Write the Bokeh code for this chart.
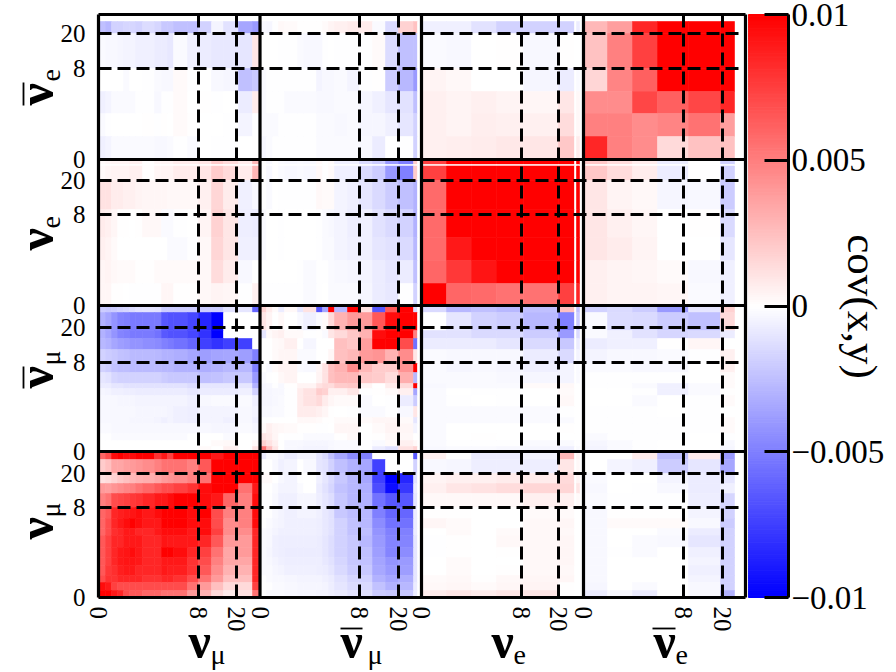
import math
import numpy as np
from bokeh.plotting import figure
from bokeh.core.properties import value
from bokeh.models import (ColumnDataSource, LinearColorMapper, FixedTicker, LinearAxis, Range1d)
from bokeh.embed import file_html
from bokeh.resources import INLINE

# bin edges of each flavour along x, and along y (top to bottom)
X_MU = [0,7,13,19,25,31,37,44,56,63,69,75,89,100,113,125,140,154,161.5]
X_MB = [0,6.5,12.5,18.5,24.5,37.5,43.5,56.5,62.5,68.5,74.5,87.5,99.5,112.5,125.5,138.5,153.5,157.5,161.5]
X_E = [0,25,50,75,102,137,153,155,158]
X_EB = [0,24,49,74,105,137,151]
Y_MU = [146,138,124,114,104,90,79,69,62,50,40,32,22,15,7,0]
Y_MB = [146,139,121,113,102,88,79,68,63,56,45,34,28,18,11,5,0]
Y_E = [146,141,139.5,125,96,68,45,22,0]
Y_EB = [145.75,138,126,91,68,46,23,0]

# covariance in units of 1e-4; rows top to bottom
MU_MU = [
[60,70,95,100,95,95,100,100,80,90,75,100,100,100,90,100,100,100],
[20,25,35,35,38,40,42,45,50,55,55,55,50,65,100,100,100,100],
[12,14,18,22,25,28,30,32,35,40,42,45,50,55,100,100,100,100],
[40,38,42,45,48,50,55,60,65,70,70,75,80,95,100,100,55,90],
[50,55,70,72,75,78,80,85,90,90,95,100,100,95,90,60,50,95],
[60,65,85,88,90,92,95,90,95,100,100,100,95,100,70,50,50,95],
[60,70,85,90,95,100,95,90,90,100,100,100,95,95,70,45,50,95],
[60,70,82,85,90,90,85,85,90,95,95,95,90,95,75,45,45,85],
[65,75,85,85,90,90,90,85,85,92,90,90,90,85,65,40,40,85],
[65,75,85,90,92,95,90,85,85,100,100,95,85,75,55,35,40,85],
[65,75,85,90,92,92,90,85,85,90,90,90,80,70,50,35,35,85],
[65,78,82,88,90,90,85,85,85,90,88,88,80,65,45,30,30,85],
[70,80,80,85,85,85,85,80,80,85,85,80,70,55,40,25,25,85],
[95,90,75,70,70,70,70,70,70,70,70,70,55,40,25,15,15,75],
[100,100,90,85,70,65,65,60,60,55,55,55,40,30,15,8,12,55]]
MU_MB = [
[-8,-2,-2,-5,-8,-5,-5,-10,-15,-25,-35,-45,-50,0,0,0,-65,0],
[0,0,-3,-6,-5,0,-3,-10,-12,-18,-25,-30,-35,-75,0,0,-18,0],
[2,2,0,-3,-5,-1,0,-6,-10,-15,-22,-28,-35,-75,-100,-85,-12,0],
[0,0,-2,-5,-5,-2,0,-8,-12,-16,-24,-28,-32,-70,-95,-78,-8,0],
[-1,-1,-3,-6,-6,-4,-4,-7,-10,-13,-22,-28,-30,-55,-65,-65,-10,0],
[0,-1,-3,-5,-6,-5,-5,-6,-9,-12,-22,-26,-28,-50,-60,-60,-8,0],
[-1,-2,-4,-5,-6,-6,-6,-7,-9,-12,-18,-24,-28,-45,-55,-55,-8,0],
[-2,-3,-5,-6,-6,-6,-6,-7,-9,-12,-18,-24,-26,-42,-50,-50,-8,0],
[-2,-3,-6,-7,-7,-7,-7,-8,-10,-13,-18,-22,-28,-40,-48,-48,-10,0],
[-2,-4,-6,-7,-8,-8,-8,-8,-10,-13,-18,-22,-25,-38,-48,-45,-10,0],
[-2,-3,-5,-6,-7,-7,-7,-7,-9,-12,-16,-22,-24,-36,-42,-40,-10,0],
[-2,-2,-4,-5,-6,-6,-6,-7,-8,-10,-15,-20,-22,-34,-40,-38,-10,0],
[-1,-2,-3,-3,-4,-5,-5,-5,-6,-8,-12,-16,-18,-30,-35,-32,-10,0],
[0,-1,-2,-2,-3,-4,-4,-4,-5,-7,-10,-14,-15,-24,-30,-28,-8,0],
[-1,-2,-2,-2,-3,-4,-4,-5,-5,-6,-8,-11,-12,-20,-22,-22,-8,0]]
MU_E = [
[6,0,-8,-8,-5,28,0,5],
[-3,-4,-7,-7,-7,10,0,3],
[5,6,6,8,8,15,0,5],
[6,10,12,14,16,16,0,10],
[3,3,3,3,6,6,0,2],
[1,1,0,0,2,2,0,0],
[4,2,0,0,3,4,0,0],
[0,2,0,2,3,3,0,0],
[-1,1,0,3,3,4,0,0],
[-1,1,0,1,3,4,0,0],
[0,2,0,0,3,4,0,0],
[0,2,0,1,3,3,0,0],
[2,3,1,3,4,4,0,0],
[3,4,2,4,5,1,0,0],
[8,10,8,10,10,1,0,0]]
MU_EB = [
[0,0,8,-25,8,-40],
[0,-5,-6,-20,-10,-35],
[-2,0,0,-5,-8,-10],
[-3,0,-1,-3,-8,-6],
[-2,-1,-1,-1,-7,-16],
[-3,1,1,1,-5,-18],
[-3,2,2,2,-3,-20],
[-3,0,0,-2,-8,-18],
[-3,0,-2,-3,-10,-18],
[-3,-1,-2,0,-6,-18],
[-3,0,0,0,-5,-18],
[-3,0,0,0,-6,-18],
[-3,0,0,0,-5,-18],
[-4,0,-2,0,-3,-18],
[-8,-3,-8,0,-2,-30]]
MB_MU = [
[-20,-22,-20,-18,-16,-14,-12,-11,-12,-20,-20,-20,-20,-20,-20,-12,-10,-60],
[-30,-35,-42,-48,-50,-52,-52,-52,-52,-65,-68,-68,-72,-85,-100,0,0,0],
[-30,-35,-42,-48,-50,-52,-52,-52,-55,-65,-68,-68,-72,-80,-100,0,0,0],
[-28,-30,-35,-38,-40,-42,-42,-44,-46,-50,-52,-55,-60,-75,-80,-75,-75,0],
[-18,-20,-22,-24,-25,-27,-27,-27,-28,-30,-30,-32,-35,-38,-36,-35,-38,-50],
[-18,-20,-24,-26,-26,-27,-27,-27,-27,-28,-28,-30,-30,-32,-30,-28,-28,-50],
[-10,-12,-16,-18,-18,-18,-18,-18,-18,-20,-22,-22,-22,-25,-24,-22,-22,-40],
[-8,-8,-10,-10,-12,-12,-12,-12,-12,-12,-12,-12,-14,-10,-10,-10,-10,-30],
[-4,-5,-6,-6,-7,-7,-8,-8,-8,-8,-8,-8,-9,-8,-8,-8,-6,-18],
[-3,-3,-3,-4,-4,-4,-5,-5,-5,-5,-5,-5,-6,-3,-2,-2,-2,-6],
[-3,-3,-3,-3,-3,-3,-4,-4,-4,-4,-5,-6,-7,-5,-5,-5,-3,-5],
[-3,-3,-3,-3,-3,-4,-4,-4,-5,-6,-5,-6,-7,-5,-5,-6,-3,-6],
[-2,-2,-3,-3,-3,-3,-3,-3,-3,-3,-3,-3,-3,-3,-4,-4,-2,-4],
[-1,-1,-2,-2,-2,-2,-2,-2,-2,-2,-2,-2,-1,0,0,-2,0,-1],
[0,0,0,0,0,0,0,0,0,0,0,0,0,0,2,3,0,3],
[0,0,0,0,0,0,0,0,0,0,0,0,0,2,0,6,0,12]]
MB_MB = [
[18,8,2,-8,3,-10,12,-65,-35,100,-28,100,12,-65,65,100,-15,0],
[10,5,0,3,0,-3,-6,-2,2,15,30,40,40,65,95,100,100,0],
[-10,2,5,6,2,2,-1,1,-2,10,15,22,30,95,100,100,50,0],
[0,0,2,3,6,0,-4,0,0,0,25,22,38,100,100,70,-55,0],
[0,0,2,4,4,-2,-2,0,0,4,25,28,40,42,30,45,10,0],
[0,-2,2,5,5,-2,-3,4,12,25,30,45,28,20,20,42,100,0],
[-2,-1,0,3,5,0,0,5,12,25,28,28,22,20,14,32,-28,0],
[-4,-3,-1,-3,1,5,5,12,15,14,20,22,5,0,8,15,100,0],
[-4,-4,-3,-3,-1,8,12,20,18,6,6,10,-1,1,2,6,-35,0],
[-4,-4,-3,-2,-1,8,12,15,8,4,2,2,-2,0,-1,-8,-20,0],
[-3,-3,-2,-2,-1,8,8,6,4,1,0,-1,-2,-2,-1,-3,10,0],
[-1,-1,0,0,0,3,3,2,1,1,2,2,2,4,4,2,-10,0],
[2,6,4,3,2,1,1,-1,-1,0,4,4,0,2,5,4,-5,0],
[10,8,4,0,-1,-1,-2,-2,-2,-2,1,3,0,1,3,3,0,0],
[18,12,6,0,-3,-3,-4,-4,-4,-3,-2,-2,-1,-2,2,6,3,0],
[55,25,10,0,-3,-4,-5,-5,-5,-3,-2,-2,-1,-8,-12,12,18,0]]
MB_E = [
[-15,-28,-25,-28,-25,25,0,-25],
[0,-10,-18,-20,-28,-50,0,-20],
[-12,-12,-15,-15,-20,-40,0,-15],
[-8,-8,-8,-10,-15,-22,0,-8],
[-2,-3,-3,-3,-8,-15,0,-5],
[-2,-4,-3,-4,-6,-5,0,-2],
[-2,-2,-2,-3,-4,-5,0,-2],
[-3,-2,-2,-2,2,3,0,0],
[-2,0,-1,-1,0,2,0,0],
[-2,-1,0,-1,0,3,0,0],
[-2,-2,-2,-2,-2,-1,0,0],
[-2,-2,-2,-2,-2,-2,0,0],
[-2,0,0,0,0,1,0,0],
[-2,0,1,0,0,0,0,0],
[-2,-1,-1,-1,-2,-2,0,-1],
[-3,-2,-2,-3,-4,-6,0,-2]]
MB_EB = [
[-18,-15,-20,-40,-10,18],
[-2,-14,-15,-20,-25,15],
[-2,-6,-12,-16,-15,-8],
[-8,-6,-6,1,4,0],
[-5,-3,-3,-2,-1,6],
[-2,-2,-3,-3,0,6],
[-1,-1,-1,-1,0,2],
[-1,-1,-2,-6,-2,2],
[0,0,-1,-6,-2,1],
[0,0,-2,0,-1,2],
[-1,-1,-1,0,-1,0],
[-1,-1,-1,-1,-1,2],
[-1,-1,-1,-1,-1,2],
[-2,-1,-1,-1,0,-1],
[-4,-2,-1,0,0,-3],
[-5,-2,-1,0,0,-4]]
E_MU = [
[2,4,5,5,5,6,6,1,4,5,5,8,8,10,20,15,8,28],
[0]*18,
[2,4,5,5,5,6,6,1,4,5,5,8,8,10,20,15,8,28],
[12,12,8,8,6,6,5,4,4,4,3,3,3,6,16,8,-6,-3],
[8,6,4,1,1,0,1,3,3,-2,-2,-1,0,5,18,10,-7,-8],
[6,5,2,0,0,0,0,0,0,0,-2,-2,-1,3,16,10,-6,-6],
[4,5,3,2,2,2,1,1,2,2,2,2,2,3,14,8,-3,0],
[4,4,1,1,0,-1,-1,-1,-1,4,4,1,1,3,5,4,-1,6]]
E_MB = [
[-1,-3,1,-2,-3,-2,-3,3,-1,2,-6,-6,-15,-20,-40,-50,20,0],
[0]*18,
[-1,-3,1,-2,-3,-2,-3,3,-1,2,-6,-6,-15,-20,-40,-50,20,0],
[-1,-2,0,-1,-1,-1,-1,3,2,2,-5,-6,-10,-15,-20,-25,-30,0],
[-2,0,0,-1,0,0,0,-1,-2,-3,-5,-7,-6,-12,-15,-18,-30,0],
[-2,0,0,-1,0,0,0,-1,-2,-2,-5,-6,-6,-10,-12,-15,-28,0],
[0,0,0,0,0,-1,-2,-1,-1,-2,-3,-4,-5,-8,-10,-8,-25,0],
[-1,-1,-1,-1,-1,-1,-2,-1,0,-2,-2,-2,-4,-8,-9,-1,-18,0]]
E_E = [
[75,100,100,100,100,100,0,100],
[0]*8,
[75,100,100,100,100,100,0,100],
[58,100,100,100,100,100,0,100],
[58,100,100,100,100,100,0,100],
[58,90,100,100,100,100,0,100],
[60,78,92,100,100,100,0,100],
[100,60,58,55,55,75,0,85]]
E_EB = [
[22,14,8,-8,1,-18],
[0]*6,
[22,14,8,-8,1,-18],
[10,5,3,-4,-3,-20],
[10,6,4,0,1,-15],
[10,8,5,0,0,-10],
[6,5,4,2,-3,-6],
[6,5,5,4,-2,-6]]
EB_MU = [
[0]*18,
[-25,-28,-18,-18,-16,-16,-18,-14,-16,-22,-22,-25,-25,-18,-5,-12,-35,-40],
[-2,-3,-3,-4,-5,-5,-6,-6,-8,-8,-9,-2,-6,-8,-9,-9,-10,10],
[0,0,0,0,-2,0,0,-1,-2,-3,-3,2,-1,0,-3,-4,-25,-22],
[-6,-5,-2,-2,-2,-2,-1,-1,-3,-1,-1,2,0,1,-1,0,-8,8],
[-2,-1,0,0,0,0,0,1,-1,1,0,2,1,0,0,-1,-5,-1],
[-6,-5,-2,-2,-2,-2,-2,-2,-3,-3,-2,-1,-2,0,-1,-1,0,1]]
EB_MB = [
[0]*18,
[-3,-4,-1,3,2,1,1,1,2,5,6,8,8,-2,-15,18,24,0],
[0,0,0,-1,-1,-2,-3,-3,-1,0,-1,-1,-1,2,-14,-25,-25,0],
[-2,-1,-1,-1,-1,-1,-1,-5,-3,-3,-2,-5,-1,1,-20,-28,-40,0],
[-2,-1,-1,-1,-2,-2,-2,-3,-3,-3,-2,-2,-4,-6,-10,-12,-25,0],
[-2,-2,-2,-1,-1,-1,-1,-2,-2,-2,-3,-2,-4,-4,-6,-10,-18,0],
[-4,-2,-1,-1,-1,-1,-1,-2,-2,-2,-2,-2,-3,-8,0,-1,-18,0]]
EB_E = [
[0]*8,
[-6,-6,-12,-18,-18,-18,0,-8],
[-2,-3,0,1,-3,1,0,0],
[5,3,0,0,-4,-8,0,-2],
[6,5,6,5,4,10,0,3],
[6,5,7,6,6,14,0,3],
[6,7,8,9,10,22,0,8]]
EB_EB = [
[0]*6,
[28,38,85,100,100,100],
[24,50,75,100,100,100],
[16,48,62,100,100,100],
[45,45,72,62,72,85],
[50,50,45,48,55,38],
[85,50,45,15,24,24]]

# layout of the four flavours, ticks and labels
X_BASE = [0, 161.5, 323, 485]
Y_BASE = [0, 146, 292, 438]
X_DIV = [0, 161.5, 323, 485, 647]
Y_DIV = [0, 146, 292, 438, 583]
X_TICKS = {0:"0",100:"8",138:"20",161.5:"0",261:"8",300:"20",323:"0",423:"8",460:"20",485:"0",585:"8",624:"20"}
Y_TICKS = {0:"0",90:"8",124:"20",146:"0",235:"8",270:"20",292:"0",383:"8",417:"20",438:"0",529:"8",564:"20"}
X_DASH = [100,138,261,300,423,460,585,624]
Y_DASH = [90,124,235,270,383,417,529,564]
CB_TICKS = {0.01:"0.01",0.005:"0.005",0:"0",-0.005:"\u22120.005",-0.01:"\u22120.01"}
SCALE = 1e-4
VMAX = 0.01

rows = [(Y_MU, [MU_MU, MU_MB, MU_E, MU_EB]),
        (Y_MB, [MB_MU, MB_MB, MB_E, MB_EB]),
        (Y_E, [E_MU, E_MB, E_E, E_EB]),
        (Y_EB, [EB_MU, EB_MB, EB_E, EB_EB])]
col_edges = [X_MU, X_MB, X_E, X_EB]

l, r, t, b, v = [], [], [], [], []
for yb, (ye, panels) in zip(Y_BASE, rows):
    for xb, xe, mat in zip(X_BASE, col_edges, panels):
        assert len(mat) == len(ye) - 1
        for i, row in enumerate(mat):
            assert len(row) == len(xe) - 1
            for j, val in enumerate(row):
                l.append(xb + xe[j]); r.append(xb + xe[j + 1])
                t.append(yb + ye[i]); b.append(yb + ye[i + 1])
                v.append(val * SCALE)

palette = ["#%02x%02xff" % (i, i) for i in range(0, 255, 2)] + ["#ffffff"] + \
          ["#ff%02x%02x" % (i, i) for i in range(254, -1, -2)]
mapper = LinearColorMapper(palette=palette, low=-VMAX, high=VMAX)

FONT = "Liberation Serif"
# the frame fills the whole figure, so that texts outside the matrix are plain glyphs
k = 2 * VMAX / 583
p = figure(width=896, height=672, output_backend="svg", toolbar_location=None,
           x_range=Range1d(-98, 798), y_range=Range1d(-75, 597),
           min_border=0, frame_width=896, frame_height=672)
p.grid.visible = False
p.outline_line_color = None
p.background_fill_color = "white"
p.extra_y_ranges = {"cbar": Range1d(-VMAX - 75 * k, VMAX + 14 * k)}

src = ColumnDataSource(dict(left=l, right=r, top=t, bottom=b, value=v))
col = {"field": "value", "transform": mapper}
p.quad(left="left", right="right", top="top", bottom="bottom", source=src,
       fill_color=col, line_color=col, line_width=0.6)

levels = np.linspace(-VMAX, VMAX, 257)
cb = ColumnDataSource(dict(bottom=levels[:-1], top=levels[1:], value=(levels[:-1] + levels[1:]) / 2,
                           left=[650] * 256, right=[690] * 256))
p.quad(left="left", right="right", top="top", bottom="bottom", source=cb, y_range_name="cbar",
       fill_color=col, line_color=col, line_width=1)

p.segment(x0=X_DASH, x1=X_DASH, y0=[0]*8, y1=[583]*8, line_color="black", line_width=3, line_dash="13 6")
p.segment(x0=[0]*8, x1=[647]*8, y0=Y_DASH, y1=Y_DASH, line_color="black", line_width=3, line_dash="13 6")
p.segment(x0=X_DIV, x1=X_DIV, y0=[0]*5, y1=[583]*5, line_color="black", line_width=3.2)
p.segment(x0=[0]*5, x1=[647]*5, y0=Y_DIV, y1=Y_DIV, line_color="black", line_width=3.2)

for ax, ticks in ((p.xaxis[0], X_TICKS), (p.yaxis[0], Y_TICKS)):
    ax.ticker = FixedTicker(ticks=list(ticks))
    ax.major_label_overrides = ticks
    ax.axis_line_color = None
    ax.major_tick_line_color = None
    ax.minor_tick_line_color = None
    ax.major_label_text_font = FONT
    ax.major_label_text_font_size = "25px"
    ax.major_label_text_color = "black"
    ax.fixed_location = 0
p.xaxis[0].major_label_orientation = "vertical"
p.xaxis[0].major_label_standoff = 3
p.yaxis[0].major_label_standoff = 7

raxis = LinearAxis(y_range_name="cbar", ticker=FixedTicker(ticks=list(CB_TICKS)),
                   major_label_overrides=CB_TICKS, axis_line_color="black", axis_line_width=3,
                   major_tick_in=24, major_tick_out=0, major_tick_line_color="black",
                   major_tick_line_width=3, minor_tick_line_color=None,
                   major_label_text_font=FONT, major_label_text_font_size="33px",
                   major_label_text_color="black", major_label_standoff=3,
                   fixed_location=690, bounds=(-VMAX, VMAX))
p.add_layout(raxis, "right")

def lab(text, px, py, size, angle=0.0, align="left", baseline="alphabetic", style="normal"):
    p.text(x=[px - 98], y=[597 - py], text=[text], angle=angle, text_font=value(FONT),
           text_font_size=f"{size}px", text_align=align, text_baseline=baseline,
           text_color="black", text_font_style=style)

lab("cov(x,y)", 862, 306, 43, angle=-math.pi/2, align="center", baseline="middle")
NU = "\u03bd"
MU, EL = "\u03bc", "e"
for txt, x, sub, sx in ((NU, 188, MU, 210), (NU, 340, MU, 367), (NU, 491, EL, 513), (NU, 653, EL, 675)):
    lab(txt, x, 640, 50, style="bold")
    lab(sub, sx, 654, 28)
for txt, y, sub, sy in ((NU, 539, MU, 517), (NU, 388, MU, 365), (NU, 250, EL, 228), (NU, 105, EL, 81)):
    lab(txt, 35, y, 50, angle=math.pi/2, style="bold")
    lab(sub, 50, sy, 28, angle=math.pi/2)

# the bars over the antineutrino symbols
p.segment(x0=[242, 554], x1=[264, 577], y0=[-31, -31], y1=[-31, -31], line_color="black", line_width=1.8)
p.segment(x0=[-75, -75], x1=[-75, -75], y0=[209, 492], y1=[231, 515], line_color="black", line_width=1.8)

open("out.html", "w").write(file_html(p, INLINE))
